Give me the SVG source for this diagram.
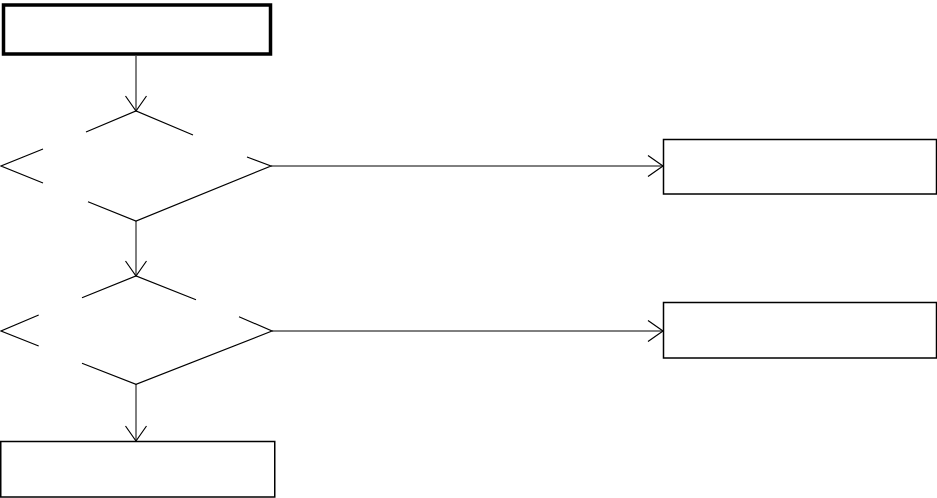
<svg xmlns="http://www.w3.org/2000/svg" width="937" height="498" viewBox="0 0 937 498">
<style>
.box{fill:#fff;stroke:#000;stroke-width:1.5}
.start{fill:#fff;stroke:#000;stroke-width:3.5}
.dia{fill:none;stroke:#000;stroke-width:1.2}
.con{fill:none;stroke:#000;stroke-width:1;marker-end:url(#arr)}
</style>
<defs>
<marker id="arr" markerUnits="userSpaceOnUse" markerWidth="40" markerHeight="40" refX="0" refY="0" viewBox="-20 -20 40 40" orient="auto" overflow="visible">
<path d="M-15,-10.5 L0,0 L-15,10.5" fill="none" stroke="#000" stroke-width="1.2"/>
</marker>
</defs>
<rect width="937" height="498" fill="#fff"/>
<g id="connectors">
<path class="con" d="M136,56 V111"/>
<path class="con" d="M136,221 V276"/>
<path class="con" d="M136,384 V441"/>
<path class="con" d="M271,166 H663"/>
<path class="con" d="M272,331 H663"/>
</g>
<g id="start">
<rect class="start" x="3.5" y="5" width="267" height="49"/>
</g>
<g id="decision1">
<path class="dia" d="M86,132 L136,111 L193,135 M43,149 L1,166 L43,183 M247,157 L271,166 L136,221 L88,201.7"/>
</g>
<g id="decision2">
<path class="dia" d="M82,297.7 L136,276 L196,299.7 M38.7,315 L1,331 L38.7,346 M239,316.7 L272,331 L136,384.3 L82,363.3"/>
</g>
<g id="box-right1">
<rect class="box" x="663.5" y="139.5" width="273" height="54.5"/>
</g>
<g id="box-right2">
<rect class="box" x="663.5" y="302.5" width="273" height="55.5"/>
</g>
<g id="box-bottom">
<rect class="box" x="0.75" y="441.5" width="274" height="55.5"/>
</g>
</svg>
